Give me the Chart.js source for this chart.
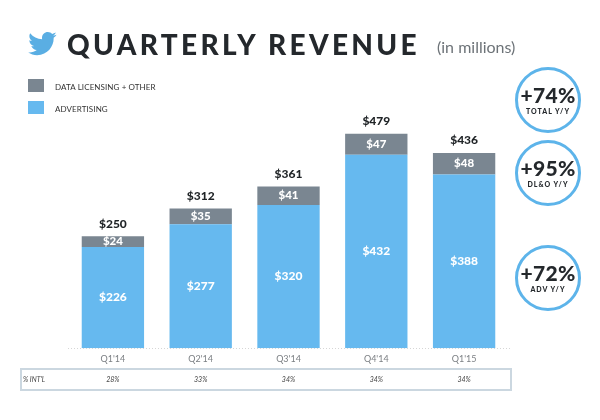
<!DOCTYPE html>
<html><head><meta charset="utf-8">
<script src="https://cdn.jsdelivr.net/npm/chart.js@4"></script>
<style>
html,body{margin:0;padding:0;background:#fff;width:600px;height:420px;overflow:hidden;font-family:Lato,"DejaVu Sans",sans-serif;}
#wrap{position:absolute;left:0;top:0;width:600px;height:420px;}
.abs{position:absolute;}
#title{left:67px;top:27px;font-size:28px;font-weight:900;letter-spacing:3.35px;color:#24282c;white-space:nowrap;}
#sub{left:437px;top:37px;font-size:16px;color:#6d7378;white-space:nowrap;}
.lg{left:28px;width:16px;height:13px;}
.lgt{left:55px;font-size:8px;color:#333;letter-spacing:0.1px;white-space:nowrap;}
.circ{left:515px;width:60px;height:60px;border:3px solid #5db4ea;border-radius:50%;text-align:center;color:#24282c;}
.circ .big{font-size:21px;font-weight:900;margin-top:14px;line-height:22px;letter-spacing:0.3px;}
.circ .sm{font-size:7px;font-weight:900;letter-spacing:1px;margin-top:1px;}
</style></head>
<body>
<div id="wrap"><canvas id="c"></canvas></div>
<svg class="abs" style="left:27px;top:30px" width="30" height="26" viewBox="0 1.5 24 20"><path fill="#5aaee3" d="M23.643 4.937c-.835.37-1.732.62-2.675.733.962-.576 1.7-1.49 2.048-2.578-.9.534-1.897.922-2.958 1.130-.85-.904-2.06-1.470-3.4-1.470-2.572 0-4.658 2.086-4.658 4.660 0 .364.042.718.12 1.060-3.873-.195-7.304-2.050-9.602-4.868-.4.690-.63 1.490-.63 2.342 0 1.616.823 3.043 2.072 3.878-.764-.025-1.482-.234-2.110-.583v.060c0 2.257 1.605 4.140 3.737 4.568-.392.106-.803.162-1.227.162-.3 0-.593-.028-.877-.082.593 1.850 2.313 3.198 4.352 3.234-1.595 1.250-3.604 1.995-5.786 1.995-.376 0-.747-.022-1.112-.065 2.062 1.323 4.510 2.093 7.140 2.093 8.570 0 13.255-7.098 13.255-13.254 0-.2-.005-.402-.014-.602.910-.658 1.700-1.478 2.323-2.410z"/></svg>
<div id="title" class="abs">QUARTERLY REVENUE</div>
<div id="sub" class="abs">(in millions)</div>
<div class="abs lg" style="top:79px;background:#7a8691"></div>
<div class="abs lgt" style="top:82px">DATA LICENSING + OTHER</div>
<div class="abs lg" style="top:101px;background:#66b9ef"></div>
<div class="abs lgt" style="top:104px">ADVERTISING</div>
<div class="abs circ" style="top:67px"><div class="big">+74%</div><div class="sm">TOTAL Y/Y</div></div>
<div class="abs circ" style="top:140px"><div class="big">+95%</div><div class="sm">DL&amp;O Y/Y</div></div>
<div class="abs circ" style="top:245px"><div class="big">+72%</div><div class="sm">ADV Y/Y</div></div>
<script>
const categories = ["Q1'14","Q2'14","Q3'14","Q4'14","Q1'15"];
const advertising = [226, 277, 320, 432, 388];
const dataLicensing = [24, 35, 41, 47, 48];
const totals = [250, 312, 361, 479, 436];
const intlShare = ["28%","33%","34%","34%","34%"];

const FONT = 'Lato, "DejaVu Sans", sans-serif';

const labelPlugin = {
  id: 'labels',
  afterDatasetsDraw(chart) {
    const ctx = chart.ctx;
    const metaA = chart.getDatasetMeta(0), metaD = chart.getDatasetMeta(1);
    ctx.save();
    ctx.textAlign = 'center';
    ctx.textBaseline = 'middle';
    categories.forEach((c, i) => {
      const a = metaA.data[i], d = metaD.data[i];
      ctx.fillStyle = '#ffffff';
      ctx.font = '900 12px ' + FONT;
      ctx.fillText('$' + advertising[i], a.x, (a.y + a.base) / 2);
      ctx.font = '900 11.5px ' + FONT;
      ctx.fillText('$' + dataLicensing[i], d.x, (d.y + d.base) / 2);
      ctx.fillStyle = '#1f2326';
      ctx.font = '900 12px ' + FONT;
      ctx.fillText('$' + totals[i], d.x, d.y - 12.5);
    });
    // dotted baseline
    const ca = chart.chartArea;
    ctx.strokeStyle = '#d6d6d6';
    ctx.lineWidth = 1;
    ctx.setLineDash([1, 2]);
    ctx.beginPath();
    ctx.moveTo(ca.left - 1, Math.round(ca.bottom) + 0.5);
    ctx.lineTo(ca.right + 2, Math.round(ca.bottom) + 0.5);
    ctx.stroke();
    ctx.setLineDash([]);
    // table row
    ctx.strokeStyle = '#cbd7e0';
    ctx.lineWidth = 2;
    ctx.strokeRect(21, 369, 490, 21);
    ctx.fillStyle = '#444';
    ctx.font = 'italic 7px ' + FONT;
    ctx.textAlign = 'left';
    ctx.fillText("% INT'L", 23, 380);
    ctx.textAlign = 'center';
    const xs = chart.scales.x;
    intlShare.forEach((v, i) => ctx.fillText(v, xs.getPixelForValue(i), 380));
    ctx.restore();
  }
};

new Chart(document.getElementById('c'), {
  type: 'bar',
  data: {
    labels: categories,
    datasets: [
      { label: 'ADVERTISING', data: advertising, backgroundColor: '#66b9ef', borderWidth: 0 },
      { label: 'DATA LICENSING + OTHER', data: dataLicensing, backgroundColor: '#7a8691', borderWidth: 0 }
    ]
  },
  options: {
    responsive: true,
    maintainAspectRatio: false,
    animation: false,
    layout: { padding: { left: 69, right: 92, top: 102, bottom: 51 } },
    datasets: { bar: { categoryPercentage: 1, barPercentage: 0.71 } },
    plugins: { legend: { display: false }, tooltip: { enabled: false } },
    scales: {
      x: {
        stacked: true,
        grid: { display: false, drawTicks: false },
        border: { display: false },
        ticks: { color: '#7b7f83', font: { family: FONT, size: 9 }, padding: 5 }
      },
      y: { stacked: true, display: false, min: 0, max: 550 }
    }
  },
  plugins: [labelPlugin]
});
</script>
</body></html>
